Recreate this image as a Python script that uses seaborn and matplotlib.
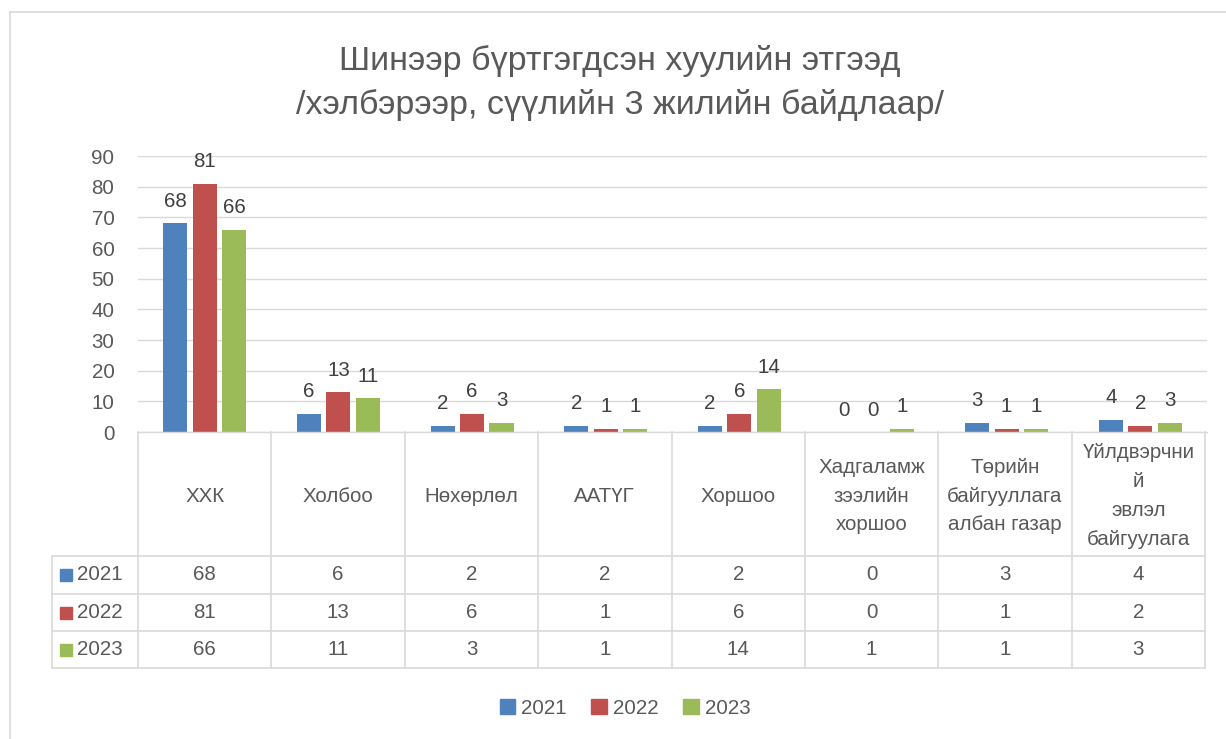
import matplotlib
matplotlib.use("Agg")
import matplotlib.pyplot as plt
import seaborn as sns
import pandas as pd
from matplotlib.patches import Patch
from matplotlib.lines import Line2D

# ---------------- data ----------------
categories = ["ХХК", "Холбоо", "Нөхөрлөл", "ААТҮГ", "Хоршоо",
              "Хадгаламж\nзээлийн\nхоршоо",
              "Төрийн\nбайгууллага\nалбан газар",
              "Үйлдвэрчни\nй\nэвлэл\nбайгуулага"]
years = ["2021", "2022", "2023"]
v2021 = [68, 6, 2, 2, 2, 0, 3, 4]
v2022 = [81, 13, 6, 1, 6, 0, 1, 2]
v2023 = [66, 11, 3, 1, 14, 1, 1, 3]
colors = ["#4F81BD", "#C0504D", "#9BBB59"]
yticks = [0, 10, 20, 30, 40, 50, 60, 70, 80, 90]
title = "Шинээр бүртгэгдсэн хуулийн этгээд\n/хэлбэрээр, сүүлийн 3 жилийн байдлаар/"

series = [v2021, v2022, v2023]
df = pd.DataFrame({
    "cat": [c for _ in years for c in categories],
    "year": [y for y in years for _ in categories],
    "val": [v for s in series for v in s],
})

plt.rcParams['font.family'] = ['Liberation Sans', 'DejaVu Sans']
TXT = "#595959"
GRID = "#D9D9D9"
FS = 14.8

W, H = 1226, 739
fig = plt.figure(figsize=(W / 100, H / 100), dpi=100)

# plot area in pixel layout
px0, px1, py_top, py_bot = 138, 1207, 156, 432
ax = fig.add_axes([px0 / W, 1 - py_bot / H, (px1 - px0) / W, (py_bot - py_top) / H])

sns.barplot(data=df, x="cat", y="val", hue="year", order=categories,
            hue_order=years, palette=colors, width=0.66, gap=0.18,
            saturation=1, legend=False, ax=ax, errorbar=None)

ax.set_ylim(0, 90)
ax.set_xlim(-0.5, len(categories) - 0.5)
ax.set_yticks(yticks)
ax.set_yticklabels([str(t) for t in yticks], fontsize=FS, color=TXT)
ax.set_xticks([])
ax.set_xlabel("")
ax.set_ylabel("")
ax.tick_params(axis="y", length=0, pad=17)
ax.grid(axis="y", color=GRID, linewidth=1)
ax.set_axisbelow(True)
for s in ["left", "right", "top"]:
    ax.spines[s].set_visible(False)
ax.spines["bottom"].set_color(GRID)
ax.spines["bottom"].set_linewidth(1)

for cont in ax.containers:
    ax.bar_label(cont, fmt="%d", padding=9, fontsize=FS, color="#404040")

# overlay for table, title, border
ov = fig.add_axes([0, 0, 1, 1], facecolor="none")
ov.set_xlim(0, W)
ov.set_ylim(H, 0)
ov.axis("off")

# chart border
ov.add_line(Line2D([10, 10], [12, H], color=GRID, lw=1.2))
ov.add_line(Line2D([10, W], [12, 12], color=GRID, lw=1.2))

# title
ov.text(620, 83, title, ha="center", va="center", fontsize=24.5, color=TXT,
        linespacing=1.45, multialignment="center")

# data table
n = len(categories)
cw = (1205 - px0) / n
rows = [432, 556, 594, 631, 668]
leftx = 52
for i in range(n + 1):
    x = px0 + i * cw
    ov.add_line(Line2D([x, x], [rows[0], rows[-1]], color=GRID, lw=1.2))
ov.add_line(Line2D([leftx, leftx], [rows[1], rows[-1]], color=GRID, lw=1.2))
for r in rows[1:]:
    ov.add_line(Line2D([leftx, px0 + n * cw], [r, r], color=GRID, lw=1.2))

for i, c in enumerate(categories):
    cx = px0 + (i + 0.5) * cw
    ov.text(cx, (rows[0] + rows[1]) / 2 + 2, c, ha="center", va="center",
            fontsize=FS, color=TXT, linespacing=1.65, multialignment="center")

for j, (y, s, col) in enumerate(zip(years, series, colors)):
    cy = (rows[j + 1] + rows[j + 2]) / 2
    ov.add_patch(plt.Rectangle((60, cy - 6), 12, 12, color=col))
    ov.text(77, cy, y, ha="left", va="center", fontsize=FS, color=TXT)
    for i, v in enumerate(s):
        cx = px0 + (i + 0.5) * cw
        ov.text(cx, cy, str(v), ha="center", va="center", fontsize=FS, color=TXT)

# legend
handles = [Patch(facecolor=c, edgecolor=c, label=y) for y, c in zip(years, colors)]
fig.legend(handles=handles, loc="center", bbox_to_anchor=(625 / W, 1 - 708 / H),
           ncol=3, frameon=False, fontsize=FS, labelcolor=TXT,
           handlelength=0.75, handleheight=0.75, handletextpad=0.3,
           columnspacing=1.2)

fig.savefig("out.png", dpi=100)
